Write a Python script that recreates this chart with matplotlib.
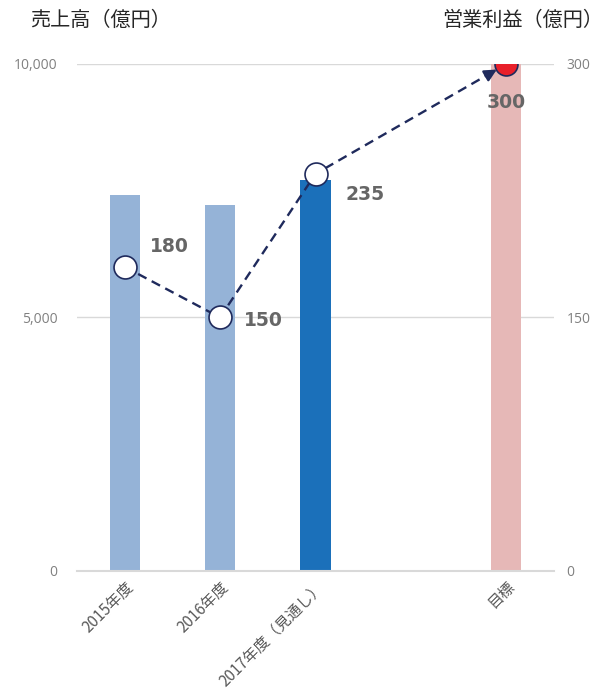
import matplotlib
matplotlib.use("Agg")
import matplotlib.pyplot as plt
import numpy as np

plt.rcParams['font.family'] = ['Noto Sans CJK JP', 'DejaVu Sans']

categories = ['2015年度', '2016年度', '2017年度（見通し）', '', '目標']
sales = [7420, 7220, 7720, None, 10000]
profit = [180, 150, 235, None, 300]
bar_colors = ['#95B3D7', '#95B3D7', '#1B70BA', '#FFFFFF', '#E6B8B7']
left_ticks = [0, 5000, 10000]
left_ticklabels = ['0', '5,000', '10,000']
right_ticks = [0, 150, 300]

fig = plt.figure(figsize=(6.05, 6.91), dpi=100)
ax = fig.add_axes([0.127, 0.1737, 0.789, 0.7337])
ax2 = ax.twinx()

x = np.arange(len(categories))
bx = [i for i, v in zip(x, sales) if v is not None]
bv = [v for v in sales if v is not None]
bc = [c for c, v in zip(bar_colors, sales) if v is not None]
ax.bar(bx, bv, width=0.315, color=bc, zorder=2)

ax.set_xlim(-0.5, len(categories) - 0.5)
ax.set_ylim(0, 10000)
ax.set_yticks(left_ticks)
ax.set_yticklabels(left_ticklabels, family=['Open Sans', 'DejaVu Sans'])
ax.yaxis.grid(True, color='#D9D9D9', linewidth=1, zorder=0)
ax.set_axisbelow(True)
for s in ['top', 'right', 'left']:
    ax.spines[s].set_visible(False)
ax.spines['bottom'].set_color('#D9D9D9')
ax.spines['bottom'].set_linewidth(1.5)
ax.tick_params(axis='y', length=0, labelsize=10, labelcolor='#808080', pad=14)
ax.set_xticks(x)
ax.set_xticklabels(categories, rotation=45, ha='right', va='top', rotation_mode='anchor')
ax.tick_params(axis='x', length=0, labelsize=11, labelcolor='#595959', pad=5)

ax2.set_ylim(0, 300)
ax2.set_yticks(right_ticks)
ax2.set_yticklabels([str(t) for t in right_ticks], family=['Open Sans', 'DejaVu Sans'])
ax2.tick_params(axis='y', length=0, labelsize=10, labelcolor='#808080', pad=9)
for s in ['top', 'right', 'left', 'bottom']:
    ax2.spines[s].set_visible(False)

px = [i for i, v in zip(x, profit) if v is not None]
pv = [v for v in profit if v is not None]
navy = '#1F2A5C'
ax2.plot(px, pv, linestyle='--', dashes=(4, 2.5), color=navy, linewidth=1.7, zorder=3)
# arrow head on last segment
fx = px[-2] + 0.9 * (px[-1] - px[-2])
fy = pv[-2] + 0.9 * (pv[-1] - pv[-2])
ax2.annotate('', xy=(px[-1], pv[-1]), xytext=(fx, fy),
             arrowprops=dict(arrowstyle='-|>', color=navy, lw=1.7,
                             mutation_scale=18, shrinkA=0, shrinkB=8),
             zorder=4)
mfc = ['white'] * (len(px) - 1) + ['#E8202A']
for xi, yi, fc in zip(px, pv, mfc):
    ax2.plot([xi], [yi], marker='o', markersize=16.5, markerfacecolor=fc,
             markeredgecolor=navy, markeredgewidth=1.2, zorder=5, linestyle='none')

offsets = [(0.47, 12), (0.45, -2), (0.52, -12), (0.0, -23)]
for (xi, yi), (dx, dy) in zip(zip(px, pv), offsets):
    ax2.text(xi + dx, yi + dy, f'{yi}', ha='center', va='center', fontsize=13.5,
             fontweight='bold', color='#666666', family=['DejaVu Sans'], zorder=6)

fig.text(0.05, 0.970, '売上高（億円）', ha='left', va='center', fontsize=14.5, color='#262626')
fig.text(0.997, 0.970, '営業利益（億円）', ha='right', va='center', fontsize=14.5, color='#262626')

fig.savefig('out.png', dpi=100)
